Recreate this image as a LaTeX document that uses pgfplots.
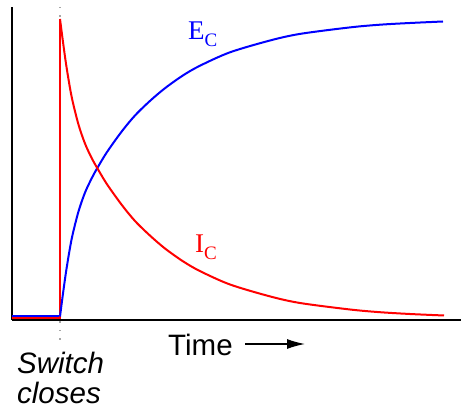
\documentclass[border=0pt]{standalone}
\usepackage{pgfplots}
\pgfplotsset{compat=1.18}
\usepackage{fontspec}
\setmainfont{Liberation Sans}
\newfontfamily\timesfont{Liberation Serif}
\usetikzlibrary{arrows.meta}
\begin{document}
\begin{tikzpicture}
\useasboundingbox (0,0) rectangle (461bp,408bp);
\begin{axis}[at={(12bp,88bp)}, anchor=south west, scale only axis,
  width=449bp, height=313bp, xmin=12, xmax=461, ymin=0, ymax=313,
  axis x line=bottom, axis y line=left,
  axis line style={-, line width=2bp, black},
  xtick=\empty, ytick=\empty, clip=false]
% dotted switch line
\addplot[gray!70, line width=1.5bp, dash pattern=on 1.5bp off 7bp] coordinates {(60,313) (60,-25)};
% flat parts before switch
\addplot[blue, line width=2bp] coordinates {(12,3.5) (60,3.5)};
\addplot[red, line width=2bp] coordinates {(12,1.5) (60,1.5) (60,301)};
% E_C
\addplot[blue, line width=2bp, smooth] coordinates {
(60,3.5) (63.3,28.7) (66.7,52.4) (71.7,81.2) (78.3,107.9) (85,127.4) (91.7,141.7)
(96.7,150.9) (106.7,167.5) (121.7,188.5) (135,204.5) (150,219.1) (165,231.8)
(183,244.6) (200,254.3) (230,267.7) (270,279.5) (300,286.1) (350,292.6) (380,295.3)
(410,297) (443,298.5)};
% I_C
\addplot[red, line width=2bp, smooth] coordinates {
(60,301) (63.3,275.7) (66.7,251.8) (71.7,222.9) (78.3,196.1) (85,176.4) (91.7,161.9)
(96.7,152.9) (106.7,136.2) (121.7,115.2) (135,99) (150,84.4) (165,71.5)
(183,58.7) (200,48.9) (230,35.5) (270,23.6) (300,17) (350,10.5) (380,7.8)
(410,6) (444,4.5)};
% labels
\node[anchor=base west, inner sep=0pt, blue] at (axis cs:188,280)
  {\timesfont\fontsize{27bp}{27bp}\selectfont E\raisebox{-7bp}{\fontsize{19bp}{19bp}\selectfont C}};
\node[anchor=base west, inner sep=0pt, red] at (axis cs:195,67)
  {\timesfont\fontsize{27bp}{27bp}\selectfont I\raisebox{-7bp}{\fontsize{19bp}{19bp}\selectfont C}};
\node[anchor=base west, inner sep=0pt] at (axis cs:168,-35)
  {\fontsize{29.5bp}{29.5bp}\selectfont Time};
\draw[line width=1.3bp, -{Latex[length=18bp,width=10bp]}] (axis cs:245,-24) -- (axis cs:305,-24);
\node[anchor=base west, inner sep=0pt] at (axis cs:17,-53)
  {\fontsize{29.5bp}{29.5bp}\selectfont\itshape Switch};
\node[anchor=base west, inner sep=0pt] at (axis cs:17,-83)
  {\fontsize{29.5bp}{29.5bp}\selectfont\itshape closes};
\end{axis}
\end{tikzpicture}
\end{document}
